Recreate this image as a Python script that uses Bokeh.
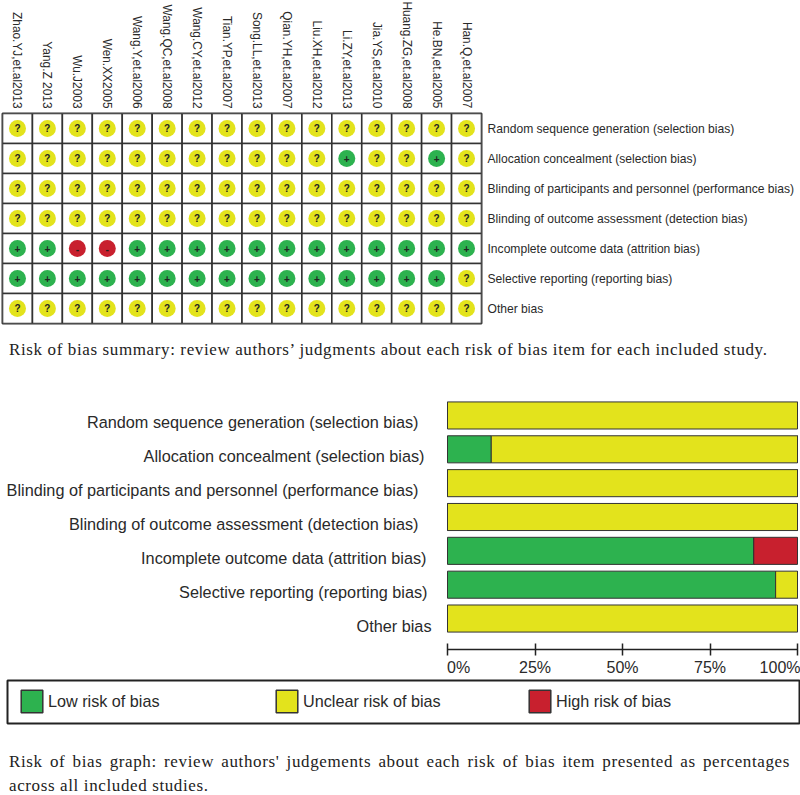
from math import pi
from bokeh.embed import file_html
from bokeh.resources import INLINE
from bokeh.layouts import column
from bokeh.models import ColumnDataSource, Div, FactorRange, FixedTicker, Legend, LegendItem, PrintfTickFormatter, Range1d
from bokeh.plotting import figure

studies = ["Zhao.YJ,et.al2013", "Yang.Z 2013", "Wu.J2003", "Wen.XX2005", "Wang.Y,et.al2006",
           "Wang.QC,et.al2008", "Wang.CY,et.al2012", "Tian.YP,et.al2007", "Song.LL,et.al2013",
           "Qian.YH,et.al2007", "Liu.XH,et.al2012", "Li.ZY,et.al2013", "Jia.YS,et.al2010",
           "Huang.ZG,et.al2008", "He.BN,et.al2005", "Han.Q,et.al2007"]
items = ["Random sequence generation (selection bias)", "Allocation concealment (selection bias)",
         "Blinding of participants and personnel (performance bias)",
         "Blinding of outcome assessment (detection bias)", "Incomplete outcome data (attrition bias)",
         "Selective reporting (reporting bias)", "Other bias"]
judgments = ["????????????????", "???????????+??+?", "????????????????", "????????????????",
             "++--++++++++++++", "+++++++++++++++?", "????????????????"]
low = [0, 12.5, 0, 0, 87.5, 93.75, 0]
unclear = [100, 87.5, 100, 100, 0, 6.25, 100]
high = [0, 0, 0, 0, 12.5, 0, 0]
ticks = [0, 25, 50, 75, 100]
GREEN, YELLOW, RED = "#2DB24F", "#E3E31C", "#C8202E"
INK = "#2a2a2a"
caption1 = "Risk of bias summary: review authors\u2019 judgments about each risk of bias item for each included study."
caption2 = "Risk of bias graph: review authors' judgements about each risk of bias item presented as percentages across all included studies."

# ---- summary grid
xs, ys, js = [], [], []
for it, row in zip(items, judgments):
    for st, j in zip(studies, row):
        xs.append(st); ys.append(it); js.append(j)
src = ColumnDataSource(dict(x=xs, y=ys, j=js, c=[{"+": GREEN, "?": YELLOW, "-": RED}[k] for k in js]))
a = figure(width=800, height=335, output_backend="svg", toolbar_location=None, frame_align=False,
           x_range=FactorRange(factors=studies), y_range=FactorRange(factors=items[::-1]),
           x_axis_location="above", y_axis_location="right", frame_width=479, frame_height=210,
           min_border_left=2, min_border_top=117, min_border_right=319, min_border_bottom=8,
           margin=(-4, 0, 0, 0))
a.rect("x", "y", 1, 1, source=src, fill_color="white", line_color="#333333", line_width=1.6)
a.scatter("x", "y", size=17, source=src, fill_color="c", line_color=None)
a.text("x", "y", text="j", source=src, text_align="center", text_baseline="middle",
       text_font_size="10px", text_font_style="bold", text_color="#222222")
a.grid.visible = False
a.outline_line_color = "#333333"; a.outline_line_width = 2
for ax in (a.xaxis[0], a.yaxis[0]):
    ax.axis_line_color = None
    ax.major_tick_line_color = None
    ax.minor_tick_line_color = None
    ax.major_tick_in = 0; ax.major_tick_out = 0
    ax.major_label_text_font = "Liberation Sans"
    ax.major_label_text_color = INK
a.xaxis[0].major_label_orientation = -pi / 2
a.xaxis[0].major_label_text_font_size = "11.9px"
a.xaxis[0].major_label_standoff = 5
a.yaxis[0].major_label_text_font_size = "12.1px"
a.yaxis[0].major_label_standoff = 6

cap_style = {"font-family": "Liberation Serif", "font-size": "17px", "letter-spacing": "0.62px",
             "color": "#222222", "text-align": "justify", "line-height": "24px"}
d1 = Div(text=caption1, width=790, height=41, margin=0, styles=dict(cap_style, **{"padding-left": "9px", "padding-top": "7px"}))

# ---- bars: the frame runs the whole width so that the row labels can sit inside it
b = figure(width=800, height=305, output_backend="svg", toolbar_location=None, frame_align=False,
           x_range=Range1d(-447 / 3.5, 100 + 3 / 3.5),
           y_range=FactorRange(factors=items[::-1], range_padding=0.415, range_padding_units="absolute"),
           frame_width=800, frame_height=265, min_border_left=0, min_border_right=0, min_border_top=12, min_border_bottom=28,
           y_axis_location=None)
right_u = [l + u for l, u in zip(low, unclear)]
b.hbar(y=items, left=0, right=low, height=0.8, fill_color=GREEN, line_color="#333333", line_width=1)
b.hbar(y=items, left=low, right=right_u, height=0.8, fill_color=YELLOW, line_color="#333333", line_width=1)
b.hbar(y=items, left=right_u, right=[r + h for r, h in zip(right_u, high)], height=0.8, fill_color=RED, line_color="#333333", line_width=1)
b.grid.visible = False
b.outline_line_color = None
label_gap = [29, 23, 29, 29, 21, 20, 16]
b.text(x=[ticks[0]] * len(items), y=items, text=items, x_offset=[-g for g in label_gap], y_offset=7,
       text_align="right", text_baseline="middle", text_font_size="16.25px", text_color=INK,
       text_font={"value": "Liberation Sans"})
b.xaxis[0].ticker = FixedTicker(ticks=ticks)
b.xaxis[0].bounds = (ticks[0], ticks[-1])
b.xaxis[0].formatter = PrintfTickFormatter(format="%d%%")
b.xaxis[0].major_label_overrides = {0: "\u00a0\u00a0\u00a0\u00a0\u00a00%"}
b.xaxis[0].axis_line_color = "#222222"; b.xaxis[0].axis_line_width = 1.5
b.xaxis[0].major_tick_line_color = "#222222"; b.xaxis[0].major_tick_line_width = 1.5
b.xaxis[0].major_tick_in = 6; b.xaxis[0].major_tick_out = 6
b.xaxis[0].minor_tick_line_color = None
b.xaxis[0].major_label_text_font = "Liberation Sans"
b.xaxis[0].major_label_text_font_size = "16px"
b.xaxis[0].major_label_text_color = INK
b.xaxis[0].major_label_standoff = 3

# ---- legend band
c = figure(width=800, height=50, output_backend="svg", toolbar_location=None, frame_align=False,
           x_range=Range1d(0, 1), y_range=Range1d(0, 1), frame_width=792, frame_height=43,
           min_border_left=7, min_border_right=1, min_border_top=2, min_border_bottom=5,
           x_axis_type=None, y_axis_type=None)
c.grid.visible = False
c.outline_line_color = "#222222"; c.outline_line_width = 2
names = ["Low risk of bias", "Unclear risk of bias", "High risk of bias"]
offs = [11, 266, 519]
nan = float("nan")
for name, col, off in zip(names, [GREEN, YELLOW, RED], offs):
    r = c.quad(left=[nan], right=[nan], top=[nan], bottom=[nan], fill_color=col, line_color="#333333", line_width=1.5)
    lg = Legend(items=[LegendItem(label=name, renderers=[r])], location=(off, 8), orientation="horizontal",
                glyph_width=27, glyph_height=28, label_standoff=3, border_line_color=None,
                background_fill_alpha=0, padding=0, margin=0, spacing=0, label_height=28,
                label_text_font="Liberation Sans", label_text_font_size="16.2px", label_text_color=INK)
    c.add_layout(lg, "center")

d2 = Div(text=caption2, width=790, height=68, margin=0, styles=dict(cap_style, **{"padding-left": "9px", "padding-top": "22px"}))

page = column(a, d1, b, c, d2, spacing=0)
open("out.html", "w").write(file_html(page, INLINE))
